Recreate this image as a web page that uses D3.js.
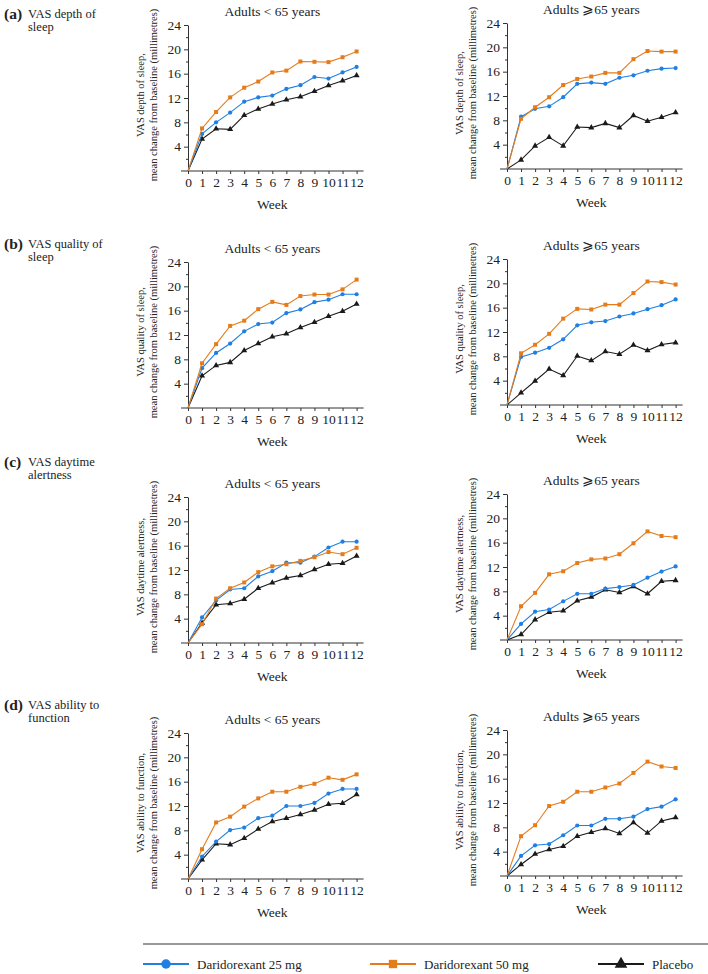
<!DOCTYPE html>
<html>
<head>
<meta charset="UTF-8">
<title>VAS by age group</title>
<script src="https://cdn.jsdelivr.net/npm/d3@7/dist/d3.min.js"></script>
<style>
  body { margin: 0; background: #fff; }
  svg text { font-family: "Liberation Serif", "Times New Roman", "DejaVu Serif", serif !important; fill: #222; }
</style>
</head>
<body>
<script>
var weeks = [0, 1, 2, 3, 4, 5, 6, 7, 8, 9, 10, 11, 12];
var yTicks = [4, 8, 12, 16, 20, 24];
var seriesNames = ["Daridorexant 25 mg", "Daridorexant 50 mg", "Placebo"];

// (a) depth of sleep
var depthYoung25 = [0, 6.1, 8.0, 9.6, 11.4, 12.1, 12.4, 13.5, 14.1, 15.45, 15.2, 16.2, 17.1];
var depthYoung50 = [0, 7.0, 9.7, 12.1, 13.7, 14.7, 16.2, 16.5, 18.0, 17.95, 17.9, 18.7, 19.65];
var depthYoungPb = [0, 5.25, 6.95, 6.85, 9.15, 10.2, 11.0, 11.7, 12.2, 13.1, 14.05, 14.85, 15.7];
var depthOld25 = [0, 8.6, 9.9, 10.3, 11.8, 14.0, 14.2, 14.0, 15.0, 15.4, 16.15, 16.5, 16.6];
var depthOld50 = [0, 8.25, 10.15, 11.8, 13.8, 14.8, 15.2, 15.8, 15.8, 18.05, 19.4, 19.3, 19.3];
var depthOldPb = [0, 1.5, 3.8, 5.2, 3.8, 6.9, 6.8, 7.5, 6.8, 8.8, 7.85, 8.5, 9.3];

// (b) quality of sleep
var qualYoung25 = [0, 6.55, 9.05, 10.6, 12.6, 13.8, 14.05, 15.6, 16.2, 17.4, 17.8, 18.7, 18.7];
var qualYoung50 = [0, 7.35, 10.5, 13.5, 14.35, 16.25, 17.45, 16.95, 18.4, 18.65, 18.65, 19.5, 21.1];
var qualYoungPb = [0, 5.3, 7.0, 7.5, 9.45, 10.6, 11.7, 12.2, 13.25, 14.1, 15.1, 15.9, 17.1];
var qualOld25 = [0, 7.9, 8.6, 9.4, 10.8, 13.1, 13.6, 13.8, 14.55, 15.05, 15.75, 16.4, 17.35];
var qualOld50 = [0, 8.5, 9.9, 11.7, 14.2, 15.8, 15.7, 16.5, 16.5, 18.4, 20.3, 20.2, 19.8];
var qualOldPb = [0, 2.0, 3.95, 5.9, 4.85, 8.05, 7.3, 8.8, 8.35, 9.85, 8.95, 9.95, 10.25];

// (c) daytime alertness
var alertYoung25 = [0, 4.2, 7.0, 8.8, 9.0, 10.95, 11.8, 13.2, 13.2, 14.2, 15.7, 16.65, 16.65];
var alertYoung50 = [0, 3.1, 7.3, 9.0, 9.95, 11.65, 12.6, 12.95, 13.5, 14.1, 14.95, 14.6, 15.65];
var alertYoungPb = [0, 3.3, 6.3, 6.5, 7.2, 9.0, 9.9, 10.7, 11.1, 12.1, 12.95, 13.1, 14.3];
var alertOld25 = [0, 2.65, 4.65, 5.0, 6.35, 7.6, 7.6, 8.45, 8.7, 9.05, 10.25, 11.25, 12.1];
var alertOld50 = [0, 5.55, 7.75, 10.8, 11.3, 12.65, 13.25, 13.4, 14.1, 15.9, 17.85, 17.1, 16.9];
var alertOldPb = [0, 0.9, 3.35, 4.55, 4.8, 6.45, 7.05, 8.25, 7.8, 8.8, 7.6, 9.65, 9.8];

// (d) ability to function
var funcYoung25 = [0, 3.7, 6.15, 8.05, 8.45, 10.0, 10.4, 12.0, 12.0, 12.5, 14.05, 14.8, 14.8];
var funcYoung50 = [0, 4.9, 9.3, 10.25, 11.9, 13.25, 14.35, 14.35, 15.15, 15.65, 16.65, 16.3, 17.2];
var funcYoungPb = [0, 3.15, 5.8, 5.65, 6.7, 8.2, 9.45, 10.0, 10.6, 11.35, 12.3, 12.45, 13.9];
var funcOld25 = [0, 3.3, 5.05, 5.25, 6.7, 8.3, 8.3, 9.4, 9.4, 9.75, 11.0, 11.4, 12.6];
var funcOld50 = [0, 6.55, 8.35, 11.5, 12.2, 13.85, 13.85, 14.55, 15.2, 16.95, 18.8, 18.0, 17.75];
var funcOldPb = [0, 1.9, 3.6, 4.35, 4.9, 6.55, 7.2, 7.8, 7.0, 8.8, 7.05, 9.05, 9.6];

var colors = ["#1f7fe3", "#e47c1c", "#1a1a1a"];
var markers = [d3.symbolCircle, d3.symbolSquare, d3.symbolTriangle];
var markerSize = [14, 16, 16];
var serif = "'Liberation Serif', 'Times New Roman', 'DejaVu Serif', serif";

var w = 708, h = 974;
var plotH = 146;

var rows = [
  {tag: "(a)", label: ["VAS depth of", "sleep"], labY: 18, top: [25, 23], varName: "VAS depth of sleep,",
   data: [[depthYoung25, depthYoung50, depthYoungPb], [depthOld25, depthOld50, depthOldPb]]},
  {tag: "(b)", label: ["VAS quality of", "sleep"], labY: 248, top: [262, 259], varName: "VAS quality of sleep,",
   data: [[qualYoung25, qualYoung50, qualYoungPb], [qualOld25, qualOld50, qualOldPb]]},
  {tag: "(c)", label: ["VAS daytime", "alertness"], labY: 466, top: [497, 494], varName: "VAS daytime alertness,",
   data: [[alertYoung25, alertYoung50, alertYoungPb], [alertOld25, alertOld50, alertOldPb]]},
  {tag: "(d)", label: ["VAS ability to", "function"], labY: 709, top: [733, 730], varName: "VAS ability to function,",
   data: [[funcYoung25, funcYoung50, funcYoungPb], [funcOld25, funcOld50, funcOldPb]]}
];
var colX = [188, 507];
var titles = ["Adults < 65 years", "Adults  \u2A7E65 years"];

var svg = d3.select("body").append("svg")
  .attr("width", w).attr("height", h)
  .attr("font-family", serif);

var x = d3.scaleLinear().domain([0, 12]).range([0, 14.05 * 12]);
var y = d3.scaleLinear().domain([0, 24]).range([plotH, 0]);

rows.forEach(function(r) {
  // row label
  var lab = svg.append("g");
  lab.append("text").attr("x", 4).attr("y", r.labY + 1)
    .style("font-size", "15.5px").style("font-weight", "bold").text(r.tag);
  lab.append("text").attr("x", 28).attr("y", r.labY)
    .style("font-size", "12.5px").text(r.label[0]);
  lab.append("text").attr("x", 28).attr("y", r.labY + 12.5)
    .style("font-size", "12.5px").text(r.label[1]);

  [0, 1].forEach(function(c) {
    var g = svg.append("g")
      .attr("transform", "translate(" + colX[c] + "," + r.top[c] + ")");

    // x axis line, a bit wider than the data range
    g.append("line").attr("x1", -7).attr("x2", x(12) + 7)
      .attr("y1", plotH).attr("y2", plotH)
      .attr("stroke", "#333").attr("stroke-width", 1);

    var xa = g.append("g").attr("transform", "translate(0," + plotH + ")")
      .call(d3.axisBottom(x).tickValues(weeks).tickSize(3).tickPadding(3).tickFormat(d3.format("d")));
    xa.attr("font-family", serif);
    xa.select(".domain").remove();
    xa.selectAll("line").attr("stroke", "#333");
    xa.selectAll("text").style("font-size", "13.5px").attr("fill", "#222");

    // minor y ticks
    g.append("g").call(d3.axisLeft(y).tickValues([2, 6, 10, 14, 18, 22]).tickSize(2).tickFormat(""))
      .call(function(s) { s.select(".domain").remove(); s.selectAll("line").attr("stroke", "#333"); });
    var ya = g.append("g")
      .call(d3.axisLeft(y).tickValues(yTicks).tickSize(4).tickPadding(3).tickSizeOuter(0));
    ya.attr("font-family", serif);
    ya.select(".domain").attr("stroke", "#333");
    ya.selectAll("line").attr("stroke", "#333");
    ya.selectAll("text").style("font-size", "13.5px").attr("fill", "#222");

    // title
    g.append("text").attr("x", x(6)).attr("y", -9)
      .attr("text-anchor", "middle").style("font-size", "13.5px").text(titles[c]);
    // x label
    g.append("text").attr("x", x(6)).attr("y", plotH + 38)
      .attr("text-anchor", "middle").style("font-size", "13.5px").text("Week");
    // y label
    var yl = g.append("text").attr("transform", "translate(-40," + (plotH / 2 - 3) + ") rotate(-90)")
      .attr("text-anchor", "middle").style("font-size", "10.5px");
    yl.append("tspan").attr("x", 0).attr("y", -4).text(r.varName);
    yl.append("tspan").attr("x", 0).attr("y", 9).text("mean change from baseline (millimetres)");

    var line = d3.line().x(function(d, i) { return x(weeks[i]); }).y(function(d) { return y(d); });

    [2, 0, 1].forEach(function(s) {
      var vals = r.data[c][s];
      g.append("path").datum(vals)
        .attr("d", line).attr("fill", "none")
        .attr("stroke", colors[s]).attr("stroke-width", 1.1);
      g.selectAll(".m" + s).data(vals.slice(1)).enter()
        .append("path").attr("class", "m" + s)
        .attr("transform", function(d, i) { return "translate(" + x(weeks[i + 1]) + "," + y(d) + ")"; })
        .attr("d", d3.symbol().type(markers[s]).size(markerSize[s]))
        .attr("fill", colors[s]);
    });
  });
});

// legend
svg.append("line").attr("x1", 143).attr("x2", 708).attr("y1", 944).attr("y2", 944)
  .attr("stroke", "#333").attr("stroke-width", 1.2);
var legX = [143, 370, 598];
seriesNames.forEach(function(n, i) {
  var lg = svg.append("g").attr("transform", "translate(" + legX[i] + ",964)");
  lg.append("line").attr("x1", 0).attr("x2", 46).attr("stroke", colors[i]).attr("stroke-width", 1.8);
  lg.append("path").attr("transform", "translate(23,0)")
    .attr("d", d3.symbol().type(markers[i]).size(70)).attr("fill", colors[i]);
  lg.append("text").attr("x", 54).attr("y", 4.5).style("font-size", "13px").text(n);
});
</script>
</body>
</html>
